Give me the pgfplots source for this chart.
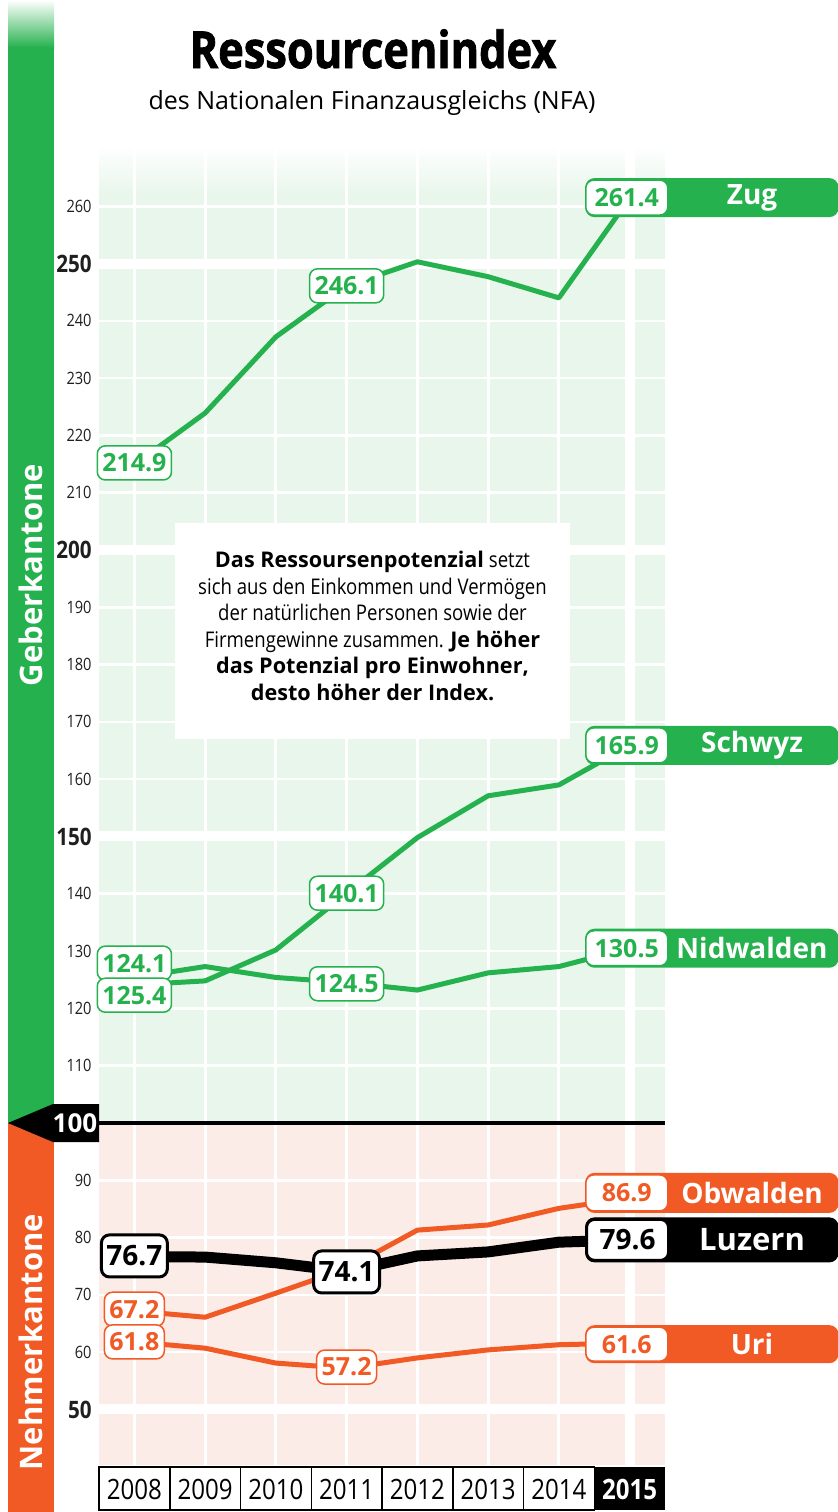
\documentclass[border=0pt]{standalone}
\usepackage{pgfplots}
\pgfplotsset{compat=1.18}
\usepackage{fontspec}
\setmainfont[FakeStretch=0.86]{Open Sans}
\newfontfamily\wide{Open Sans}
\newfontfamily\titlefont[FakeStretch=0.85, FakeBold=1.6]{Open Sans}
\definecolor{gr}{RGB}{37,177,77}
\definecolor{bgG}{RGB}{232,246,235}
\definecolor{org}{RGB}{241,90,36}
\definecolor{bgO}{RGB}{252,236,232}
\newcommand\tn[1]{\mbox{\fontsize{8.5pt}{9pt}\selectfont #1}}
\newcommand\tb[1]{\mbox{\fontsize{12pt}{12pt}\selectfont\bfseries #1}}
\newcommand\wb{\wide\bfseries}
% inline value label: x, y, text, colour, font size, min height, line width
\newcommand\vlab[7]{\node[draw=#4, fill=white, text=#4, line width=#7, rounded corners=4pt,
  inner xsep=2.5pt, inner ysep=0pt, minimum height=#6,
  font={\wide\bfseries\fontsize{#5}{#5}\selectfont}] at (axis cs:#1,#2) {#3};}
% right label: y, value, name, colour, bar height, value font, name font, border width
\newcommand\rlab[8]{%
  \node[fill=#4, rounded corners=4.5pt, minimum width=126.5pt, minimum height=#5, inner sep=0pt, anchor=west] at (axis cs:2014.37,#1) {};
  \node[text=white, font={\wide\bfseries\fontsize{#7}{#7}\selectfont}, xshift=83.5pt] at (axis cs:2014.37,#1) {#3};
  \node[anchor=west, draw=#4, fill=white, text=#4, line width=#8, rounded corners=4pt, inner sep=0pt,
    minimum width=41pt, minimum height=#5-2pt, font={\wide\bfseries\fontsize{#6}{#6}\selectfont}] at (axis cs:2014.37,#1) {#2};}
\begin{document}
\begin{tikzpicture}
\useasboundingbox (0,0) rectangle (419pt,-756pt);
\begin{axis}[at={(49.5pt,-732.5pt)}, anchor=south west, scale only axis,
  width=283pt, height=660pt,
  xmin=2007.5, xmax=2015.5, ymin=40.31, ymax=270.68,
  axis line style={draw=none}, xtick=\empty,
  ytick={50,60,70,80,90,110,120,130,140,150,160,170,180,190,200,210,220,230,240,250,260},
  yticklabels={\tb{50},\tn{60},\tn{70},\tn{80},\tn{90},\tn{110},\tn{120},\tn{130},\tn{140},\tb{150},\tn{160},\tn{170},\tn{180},\tn{190},\tb{200},\tn{210},\tn{220},\tn{230},\tn{240},\tb{250},\tn{260}},
  tick style={draw=none}, major tick length=0pt,
  yticklabel style={anchor=east, inner sep=0pt, xshift=-3.5pt, text=black!88},
  clip=false]
% backgrounds
\fill[bgO] (axis cs:2007.5,40.31) rectangle (axis cs:2015.5,100);
\fill[bgG] (axis cs:2007.5,100) rectangle (axis cs:2015.5,262);
\shade[top color=white, bottom color=bgG] (axis cs:2007.5,261.95) rectangle (axis cs:2015.5,270.68);
% grid
\pgfplotsinvokeforeach{60,70,80,90,110,120,130,140,160,170,180,190,210,220,230,240,260}{
  \draw[white, line width=1.3pt] (axis cs:2007.5,#1) -- (axis cs:2015.5,#1);}
\pgfplotsinvokeforeach{2008,2009,2010,2011,2012,2013,2014}{
  \draw[white, line width=1.5pt] (axis cs:#1,40.31) -- (axis cs:#1,270.68);}
\pgfplotsinvokeforeach{50,150,200,250}{
  \draw[white, line width=5pt] (axis cs:2007.5,#1) -- (axis cs:2015.5,#1);}
\draw[white, line width=5pt] (axis cs:2015,40.31) -- (axis cs:2015,270.68);
\draw[black, line width=1.7pt] (axis cs:2007.5,100) -- (axis cs:2015.5,100);
% data
\addplot[gr, line width=2.5pt, line join=round] coordinates {(2008,214.9) (2009,223.9) (2010,237.2) (2011,246.1) (2012,250.3) (2013,247.7) (2014,244.0) (2015,261.4)};
\addplot[gr, line width=2.5pt, line join=round] coordinates {(2008,124.1) (2009,124.8) (2010,130.2) (2011,140.1) (2012,149.8) (2013,157.1) (2014,159.0) (2015,165.9)};
\addplot[gr, line width=2.5pt, line join=round] coordinates {(2008,125.4) (2009,127.3) (2010,125.4) (2011,124.5) (2012,123.2) (2013,126.2) (2014,127.3) (2015,130.5)};
\addplot[org, line width=2.5pt, line join=round] coordinates {(2008,67.2) (2009,66.1) (2010,70.3) (2011,74.6) (2012,81.3) (2013,82.2) (2014,85.1) (2015,86.9)};
\addplot[org, line width=2.5pt, line join=round] coordinates {(2008,61.8) (2009,60.7) (2010,58.1) (2011,57.2) (2012,59.0) (2013,60.4) (2014,61.3) (2015,61.6)};
\addplot[black, line width=5.5pt, line join=round] coordinates {(2008,76.7) (2009,76.6) (2010,75.6) (2011,74.1) (2012,76.8) (2013,77.5) (2014,79.2) (2015,79.6)};
% inline labels
\vlab{2008}{215.2}{214.9}{gr}{12.5pt}{17pt}{0.75pt}
\vlab{2011}{246.1}{246.1}{gr}{12.5pt}{17pt}{0.75pt}
\vlab{2008}{127.9}{124.1}{gr}{12.5pt}{17pt}{0.75pt}
\vlab{2008}{122.3}{125.4}{gr}{12.5pt}{17pt}{0.75pt}
\vlab{2011}{140.1}{140.1}{gr}{12.5pt}{17pt}{0.75pt}
\vlab{2011}{124.3}{124.5}{gr}{12.5pt}{17pt}{0.75pt}
\vlab{2008}{67.5}{67.2}{org}{12.5pt}{17pt}{0.75pt}
\vlab{2008}{61.8}{61.8}{org}{12.5pt}{17pt}{0.75pt}
\vlab{2011}{57.4}{57.2}{org}{12.5pt}{17pt}{0.75pt}
\vlab{2008}{76.8}{76.7}{black}{14pt}{21pt}{1.5pt}
\vlab{2011}{74.0}{74.1}{black}{14pt}{21pt}{1.5pt}
% right labels
\rlab{261.5}{261.4}{Zug}{gr}{19.5pt}{12.5pt}{14pt}{0.75pt}
\rlab{165.9}{165.9}{Schwyz}{gr}{19.5pt}{12.5pt}{14pt}{0.75pt}
\rlab{130.5}{130.5}{Nidwalden}{gr}{19.5pt}{12.5pt}{14pt}{0.75pt}
\rlab{87.8}{86.9}{Obwalden}{org}{20pt}{12.5pt}{14pt}{0.75pt}
\rlab{79.6}{79.6}{Luzern}{black}{22.5pt}{14pt}{15.5pt}{1.5pt}
\rlab{61.4}{61.6}{Uri}{org}{19pt}{12.5pt}{14pt}{0.75pt}
\end{axis}
\begin{scope}[x=0.5pt,y=-0.5pt]
 \shade[top color=white, bottom color=gr] (8,0) rectangle (54,48);
 \fill[gr] (8,47) rectangle (54,1123);
 \fill[org] (8,1123) rectangle (54,1512);
 \fill[black] (8,1123) -- (53,1104) -- (99,1104) -- (99,1142) -- (53,1142) -- cycle;
 \node[white, font={\wide\bfseries\fontsize{13pt}{13pt}\selectfont}] at (75,1123) {100};
 \node[white, rotate=90, font={\wide\bfseries\fontsize{15.5pt}{15.5pt}\selectfont}] at (31,575) {Geberkantone};
 \node[white, rotate=90, font={\wide\bfseries\fontsize{15.5pt}{15.5pt}\selectfont}] at (31,1342) {Nehmerkantone};
 \node[anchor=base, font={\titlefont\bfseries\fontsize{25.5pt}{25.5pt}\selectfont}] at (373,68) {Ressourcenindex};
 \node[anchor=base, font={\wide\fontsize{12.5pt}{12.5pt}\selectfont}] at (372,109) {des Nationalen Finanzausgleichs (NFA)};
 \fill[white] (175,523) rectangle (570,739);
 \node[align=center, inner sep=0pt, font={\fontsize{10.8pt}{13.3pt}\selectfont}] at (372.5,626) {%
   {\wb Das Ressoursenpotenzial} setzt\\
   sich aus den Einkommen und Vermögen\\
   der natürlichen Personen sowie der\\
   Firmengewinne zusammen. {\wb Je höher}\\
   {\wb das Potenzial pro Einwohner,}\\
   {\wb desto höher der Index.}};
 \foreach \yr [count=\i from 0] in {2008,2009,2010,2011,2012,2013,2014}{
   \draw[black, line width=0.75pt, fill=white] (99+\i*70.75,1467) rectangle (99+\i*70.75+70.75,1510);
   \node[font={\fontsize{14pt}{14pt}\selectfont}] at (99+\i*70.75+35.375,1489) {\yr};
 }
 \fill[black] (594.25,1467) rectangle (665,1510);
 \node[white, font={\bfseries\fontsize{14pt}{14pt}\selectfont}] at (629.6,1489) {2015};
\end{scope}
\end{tikzpicture}
\end{document}
